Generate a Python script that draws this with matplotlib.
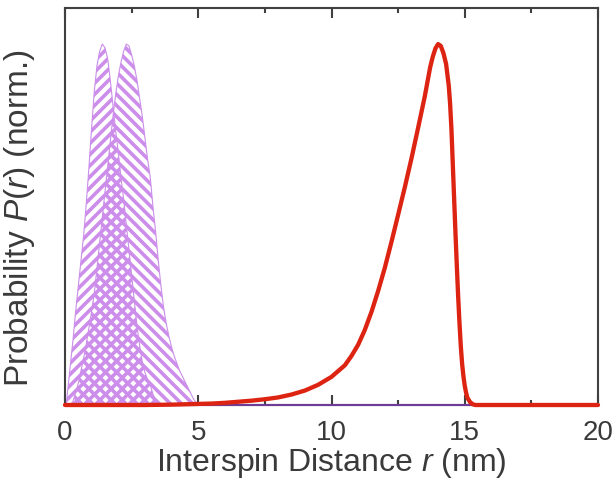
import numpy as np
import matplotlib
matplotlib.use("Agg")
import matplotlib.pyplot as plt
from matplotlib.ticker import MultipleLocator, NullLocator

plt.rcParams["font.family"] = ["Liberation Sans", "DejaVu Sans"]
plt.rcParams["mathtext.fontset"] = "custom"
plt.rcParams["mathtext.rm"] = "Liberation Sans"
plt.rcParams["mathtext.it"] = "Liberation Sans:italic"
plt.rcParams["hatch.linewidth"] = 2.6

TEXT = "#3a3a3a"
SPINE = "#404040"

# narrow distribution A (left peak)
a_r = [0.05, 0.1, 0.2, 0.3, 0.4, 0.5, 0.6, 0.7, 0.8, 0.9, 1.0, 1.1, 1.2, 1.3, 1.4,
       1.5, 1.6, 1.7, 1.8, 1.9, 2.0, 2.1, 2.2, 2.3, 2.4, 2.5, 2.6, 2.7, 2.8, 2.9,
       3.0, 3.1, 3.2, 3.3, 3.4, 3.5]
a_p = [0.0, 0.04, 0.11, 0.18, 0.26, 0.33, 0.40, 0.47, 0.56, 0.66, 0.77, 0.87, 0.94, 0.98, 1.0,
       0.99, 0.96, 0.90, 0.83, 0.76, 0.70, 0.63, 0.57, 0.50, 0.43, 0.36, 0.29, 0.22, 0.165, 0.12,
       0.09, 0.07, 0.055, 0.03, 0.012, 0.0]

# narrow distribution B (second peak)
b_r = [0.2, 0.3, 0.4, 0.5, 0.6, 0.7, 0.8, 0.9, 1.0, 1.1, 1.2, 1.3, 1.4, 1.5, 1.6,
       1.7, 1.8, 1.9, 2.0, 2.1, 2.2, 2.3, 2.4, 2.5, 2.6, 2.7, 2.8, 2.9, 3.0, 3.1,
       3.2, 3.3, 3.4, 3.5, 3.6, 3.7, 3.8, 3.9, 4.0, 4.1, 4.2, 4.3, 4.4, 4.5, 4.6,
       4.7, 4.8, 4.9, 5.0]
b_p = [0.0, 0.01, 0.035, 0.06, 0.095, 0.13, 0.17, 0.215, 0.26, 0.31, 0.38, 0.45, 0.52, 0.59, 0.66,
       0.73, 0.80, 0.86, 0.91, 0.95, 0.98, 1.0, 0.995, 0.97, 0.94, 0.90, 0.85, 0.80, 0.74, 0.68,
       0.63, 0.55, 0.48, 0.40, 0.33, 0.27, 0.225, 0.19, 0.16, 0.135, 0.115, 0.095, 0.08, 0.065, 0.05,
       0.035, 0.02, 0.008, 0.0]

# flat purple trace
flat_r = [0.0, 20.0]
flat_p = [0.0, 0.0]

# broad distribution (red)
c_r = [0.0, 3.0, 4.0, 5.0, 5.5, 6.0, 6.5, 7.0, 7.5, 8.0, 8.5, 9.0, 9.5, 10.0, 10.5,
       10.75, 11.0, 11.25, 11.5, 11.75, 12.0, 12.25, 12.5, 12.75, 13.0, 13.25, 13.5, 13.6, 13.7,
       13.8, 13.9, 14.0, 14.1, 14.2, 14.3, 14.4, 14.45, 14.5, 14.55, 14.6, 14.65, 14.7, 14.75,
       14.8, 14.85, 14.9, 14.95, 15.0, 15.05, 15.1, 15.2, 15.3, 15.4, 20.0]
c_p = [0.0, 0.0, 0.001, 0.003, 0.004, 0.006, 0.009, 0.012, 0.016, 0.021, 0.029, 0.04, 0.056, 0.078, 0.11,
       0.136, 0.167, 0.208, 0.258, 0.316, 0.38, 0.452, 0.527, 0.603, 0.683, 0.768, 0.855, 0.895, 0.935,
       0.965, 0.988, 1.0, 0.995, 0.975, 0.945, 0.885, 0.835, 0.765, 0.67, 0.575, 0.48, 0.39, 0.305,
       0.23, 0.165, 0.115, 0.08, 0.053, 0.034, 0.02, 0.008, 0.002, 0.0, 0.0]

fig = plt.figure(figsize=(6.14, 4.81), dpi=100)
ax = fig.add_axes([65 / 614, 1 - 406 / 481, 533 / 614, 397 / 481])

hatch_col = "#cc8eea"
ax.fill_between(a_r, a_p, 0, facecolor="none", edgecolor=hatch_col, hatch="///", linewidth=0.8, zorder=2)
ax.fill_between(b_r, b_p, 0, facecolor="none", edgecolor=hatch_col, hatch="\\\\\\", linewidth=0.8, zorder=2)
ax.plot(flat_r, flat_p, color="#6e3c96", lw=1.5, zorder=3, clip_on=False)
ax.plot(c_r, c_p, color="#dd2412", lw=3.1, zorder=4, clip_on=False,
        solid_joinstyle="round", solid_capstyle="round")

ax.set_xlim(0, 20)
ax.set_ylim(0, 1.1)
ax.xaxis.set_major_locator(MultipleLocator(5))
ax.xaxis.set_minor_locator(MultipleLocator(2.5))
ax.yaxis.set_major_locator(NullLocator())
ax.tick_params(axis="x", which="both", direction="in", top=True, width=1.5,
               colors=SPINE, labelcolor=TEXT, labelsize=20, pad=10)
ax.tick_params(axis="x", which="major", length=7)
ax.tick_params(axis="x", which="minor", length=3.5)
for s in ax.spines.values():
    s.set_color(SPINE)
    s.set_linewidth(1.5)

ax.set_xlabel("Interspin Distance $r$ (nm)", fontsize=23, color=TEXT, labelpad=0)
ax.set_ylabel("Probability $P(r)$ (norm.)", fontsize=24, color=TEXT)
ax.yaxis.set_label_coords(-0.052, 0.474)

fig.savefig("out.png", dpi=100)
